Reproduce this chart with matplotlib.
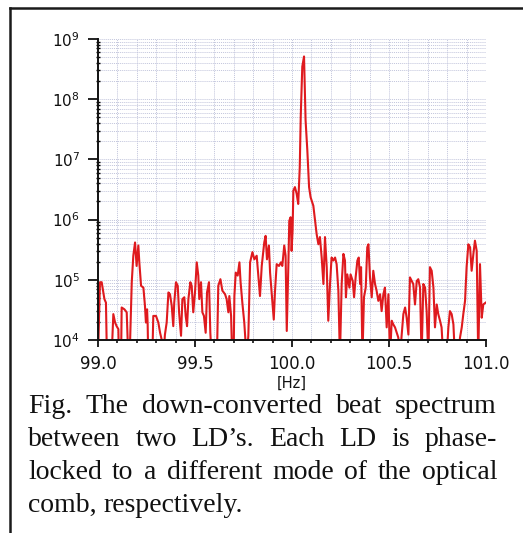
import matplotlib
matplotlib.use("Agg")
import numpy as np
import matplotlib.pyplot as plt
from matplotlib.lines import Line2D
from matplotlib.ticker import LogLocator, MultipleLocator, FormatStrFormatter, NullFormatter

# beat spectrum: frequency [Hz] and log10(level)
# 3.7 marks the dips that fall below the 1e4 floor of the plot
freq_hz = [
    99.000, 99.010, 99.019, 99.033, 99.041, 99.046, 99.070, 99.079, 99.088, 99.096,
    99.105, 99.108, 99.119, 99.122, 99.136, 99.148, 99.156, 99.163, 99.174, 99.182,
    99.191, 99.199, 99.208, 99.213, 99.222, 99.234, 99.242, 99.247, 99.253, 99.256,
    99.259, 99.280, 99.285, 99.299, 99.311, 99.320, 99.328, 99.337, 99.345, 99.354,
    99.363, 99.371, 99.380, 99.388, 99.393, 99.402, 99.411, 99.418, 99.428, 99.435,
    99.445, 99.452, 99.459, 99.466, 99.476, 99.483, 99.491, 99.500, 99.509, 99.517,
    99.522, 99.531, 99.538, 99.546, 99.555, 99.562, 99.572, 99.579, 99.586, 99.613,
    99.620, 99.631, 99.641, 99.655, 99.663, 99.672, 99.677, 99.686, 99.692, 99.699,
    99.703, 99.710, 99.720, 99.729, 99.735, 99.744, 99.754, 99.766, 99.775, 99.784,
    99.796, 99.806, 99.818, 99.826, 99.835, 99.844, 99.857, 99.864, 99.871, 99.881,
    99.887, 99.895, 99.906, 99.912, 99.921, 99.933, 99.943, 99.950, 99.960, 99.967,
    99.973, 99.981, 99.986, 99.993, 99.998, 100.003, 100.007, 100.015, 100.024, 100.032,
    100.040, 100.045, 100.053, 100.062, 100.070, 100.079, 100.088, 100.096, 100.110, 100.119,
    100.127, 100.136, 100.144, 100.153, 100.162, 100.170, 100.179, 100.187, 100.196, 100.204,
    100.213, 100.222, 100.230, 100.239, 100.247, 100.256, 100.265, 100.273, 100.278, 100.285,
    100.296, 100.302, 100.313, 100.320, 100.328, 100.337, 100.344, 100.351, 100.356, 100.363,
    100.371, 100.380, 100.388, 100.394, 100.402, 100.411, 100.419, 100.428, 100.436, 100.445,
    100.454, 100.462, 100.471, 100.479, 100.488, 100.497, 100.505, 100.514, 100.522, 100.531,
    100.540, 100.548, 100.557, 100.565, 100.574, 100.583, 100.591, 100.600, 100.608, 100.617,
    100.625, 100.634, 100.643, 100.651, 100.660, 100.668, 100.677, 100.686, 100.694, 100.703,
    100.711, 100.720, 100.729, 100.737, 100.746, 100.754, 100.763, 100.771, 100.780, 100.797,
    100.806, 100.814, 100.823, 100.832, 100.840, 100.857, 100.866, 100.875, 100.883, 100.892,
    100.900, 100.909, 100.918, 100.926, 100.935, 100.943, 100.952, 100.960, 100.969, 100.978,
    100.986, 100.998,
]
level_exp = [
    3.70, 4.96, 4.96, 4.68, 4.62, 3.70, 3.70, 4.43, 4.29, 4.23,
    4.18, 3.70, 3.70, 4.54, 4.51, 4.46, 3.70, 3.70, 4.96, 5.40,
    5.62, 5.23, 5.57, 5.29, 4.90, 4.87, 4.57, 4.29, 4.51, 4.26,
    3.70, 3.70, 4.40, 4.40, 4.29, 4.12, 4.01, 3.70, 4.09, 4.29,
    4.79, 4.76, 4.57, 4.23, 4.62, 4.96, 4.90, 4.46, 4.07, 4.68,
    4.71, 4.40, 4.23, 4.68, 4.96, 4.90, 4.46, 4.79, 5.29, 5.07,
    4.68, 4.96, 4.46, 4.40, 4.12, 4.79, 4.96, 4.12, 3.70, 3.70,
    4.90, 5.01, 4.82, 4.76, 4.68, 4.46, 4.73, 4.40, 3.70, 3.70,
    4.73, 5.12, 5.07, 5.29, 4.96, 4.62, 4.29, 3.70, 4.07, 5.29,
    5.46, 5.34, 5.40, 5.09, 4.73, 5.23, 5.62, 5.73, 5.34, 5.57,
    5.12, 4.79, 4.34, 4.79, 5.26, 5.23, 5.29, 5.23, 5.57, 5.40,
    4.15, 5.21, 5.98, 6.04, 5.48, 5.82, 6.48, 6.54, 6.43, 6.26,
    6.87, 7.71, 8.54, 8.71, 7.65, 7.15, 6.54, 6.37, 6.23, 5.98,
    5.76, 5.59, 5.71, 5.37, 4.93, 5.71, 5.21, 4.32, 4.93, 5.37,
    5.32, 5.37, 5.26, 4.82, 3.70, 4.93, 5.43, 5.32, 4.71, 5.09,
    4.87, 5.09, 4.98, 4.71, 5.04, 5.32, 5.37, 4.93, 5.21, 3.70,
    4.71, 4.87, 5.54, 5.59, 5.04, 4.71, 5.15, 4.93, 4.82, 4.65,
    4.76, 4.48, 4.76, 4.87, 4.21, 4.76, 3.70, 4.32, 4.26, 4.21,
    4.12, 4.04, 3.70, 4.07, 4.43, 4.54, 4.37, 4.09, 5.04, 4.98,
    4.93, 4.59, 4.98, 5.01, 4.87, 3.70, 4.93, 4.87, 4.48, 3.70,
    5.21, 5.15, 4.87, 4.21, 4.59, 4.43, 4.32, 4.21, 3.70, 3.70,
    4.21, 4.48, 4.43, 4.26, 3.70, 3.70, 4.04, 4.21, 4.43, 4.65,
    5.21, 5.59, 5.54, 5.15, 5.43, 5.65, 5.48, 3.70, 5.26, 4.37,
    4.59, 4.62,
]

caption_lines = [
    "Fig. The down-converted beat spectrum",
    "between two LD\u2019s. Each LD is phase-",
    "locked to a different mode of the optical",
    "comb, respectively.",
]

W, H = 523, 533
fig = plt.figure(figsize=(W / 100, H / 100), dpi=100)
ax = fig.add_axes([98 / W, 1 - 340 / H, 388 / W, 301 / H])

ax.plot(freq_hz, 10.0 ** np.array(level_exp), color="#df1a1e", lw=1.5)

ax.set_yscale("log")
ax.set_xlim(99.0, 101.0)
ax.set_ylim(1e4, 1e9)

ax.xaxis.set_major_locator(MultipleLocator(0.5))
ax.xaxis.set_minor_locator(MultipleLocator(0.1))
ax.xaxis.set_major_formatter(FormatStrFormatter("%.1f"))
ax.yaxis.set_major_locator(LogLocator(base=10, numticks=10))
ax.yaxis.set_minor_locator(LogLocator(base=10, subs=np.arange(2, 10), numticks=20))
ax.yaxis.set_minor_formatter(NullFormatter())

ax.grid(True, which="both", color="#c2c5dc", linestyle=(0, (1, 1)), linewidth=0.7)
ax.set_axisbelow(True)

for side in ("top", "right"):
    ax.spines[side].set_visible(False)
for side in ("left", "bottom"):
    ax.spines[side].set_linewidth(1.4)
    ax.spines[side].set_color("#111111")

ax.tick_params(axis="x", which="major", direction="out", length=5, width=1.3,
               labelsize=12, pad=6, colors="#111111")
ax.tick_params(axis="x", which="minor", direction="out", length=2.5, width=1.1)
ax.tick_params(axis="y", which="major", direction="out", length=7, width=1.3,
               labelsize=11, pad=6, colors="#111111")
ax.tick_params(axis="y", which="minor", direction="inout", length=3, width=1.0)

ax.set_xlabel("[Hz]", fontsize=10.5, labelpad=2, color="#111111")

# caption in serif, justified like the printed figure
fig.canvas.draw()
renderer = fig.canvas.get_renderer()
left_px, right_px = 28, 497
baselines = [413, 446, 479, 512]
fsize = 20
for i, line in enumerate(caption_lines):
    words = line.split(" ")
    texts = [fig.text(0, 1 - baselines[i] / H, w, fontsize=fsize,
                      family="Liberation Serif", va="baseline", ha="left",
                      color="#111111") for w in words]
    widths = [t.get_window_extent(renderer).width for t in texts]
    if i < len(caption_lines) - 1:
        gap = (right_px - left_px - sum(widths)) / (len(words) - 1)
    else:
        gap = 0.25 * fsize * 100 / 72
    x = left_px
    for t, w in zip(texts, widths):
        t.set_x(x / W)
        x += w + gap

# frame around the figure panel (left and top edges visible)
fig.add_artist(Line2D([10 / W, 10 / W], [0, 1 - 8 / H], transform=fig.transFigure,
                      color="#1a1a1a", lw=1.8))
fig.add_artist(Line2D([10 / W, 1], [1 - 8 / H, 1 - 8 / H], transform=fig.transFigure,
                      color="#1a1a1a", lw=1.8))

fig.savefig("out.png", dpi=100)
